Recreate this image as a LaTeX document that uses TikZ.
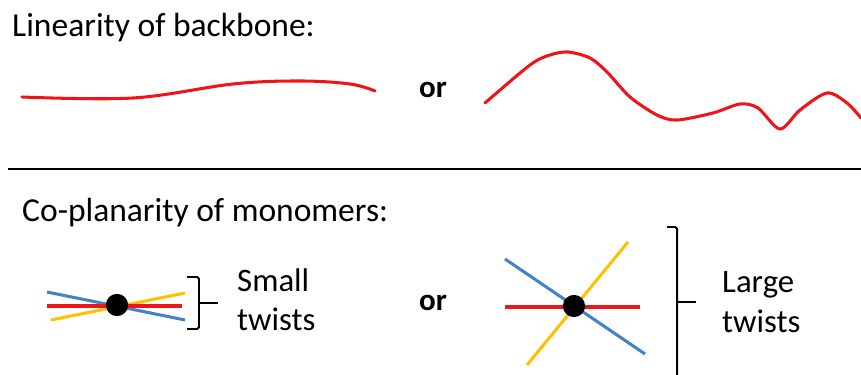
\documentclass[tikz,border=0pt]{standalone}
\usepackage{fontspec}
\setmainfont{Carlito}
\definecolor{chainred}{RGB}{238,20,24}
\definecolor{ringblue}{RGB}{68,130,200}
\definecolor{ringyellow}{RGB}{255,192,0}
\usetikzlibrary{positioning,calc}

\tikzset{
  heading/.style={anchor=base west, inner sep=0pt, font=\fontsize{28.6}{32}\selectfont},
  label/.style={anchor=base west, inner sep=0pt, font=\fontsize{28}{32}\selectfont},
  ortext/.style={inner sep=0pt, font=\fontsize{26.5}{30}\selectfont\bfseries},
  chain/.style={chainred, line width=2.6pt, line cap=round},
  bond/.style={line width=2.6pt},
  brace/.style={line width=1.7pt, rounded corners=1.5pt},
  monomer/.style={circle, fill=black, minimum size=19pt, inner sep=0pt}
}

\begin{document}
\begin{tikzpicture}[x=0.03cm, y=-0.03cm]
  \useasboundingbox (0,0) rectangle (861,375);

  % backbone linearity
  \node[heading] (linhead) at (12,37) {Linearity of backbone:};
  \draw[chain] plot[smooth, tension=0.6] coordinates {(22,97) (133,98) (233,84) (300,81) (350,84) (375,91)};
  \node[ortext] (or1) at (433,90) {or};
  \draw[chain] plot[smooth, tension=0.5] coordinates {(485,103) (530,65) (550,55) (568,52) (590,58) (607,72) (630,97) (657,115) (677,120) (713,113) (740,104) (758,108) (780,129) (800,110) (827,93) (847,103) (861,118)};

  % separator
  \draw[line width=2.2pt] (8,169) -- (861,169);

  % co-planarity
  \node[heading] (cophead) at (22,222) {Co-planarity of monomers:};

  % small twists
  \coordinate (sc) at (117,305);
  \draw[bond, ringblue] (47,292) -- (185,320);
  \draw[bond, ringyellow] (51,320) -- (185,293);
  \draw[bond, chainred] (47,306) -- (182,306);
  \node[monomer] (sdot) at (sc) {};
  \draw[brace] (187,277) -- (199,277) -- (199,329) -- (187,329);
  \draw[brace] (199,303) -- (218,303);
  \node[label] (small) at (237,292) {Small};
  \node[label] (stwist) at (237,331) {twists};

  \node[ortext] (or2) at (433,303) {or};

  % large twists
  \coordinate (lc) at (574,306);
  \draw[bond, ringblue] (505,259) -- (645,354);
  \draw[bond, ringyellow] (527,365) -- (628,242);
  \draw[bond, chainred] (505,307) -- (640,307);
  \node[monomer] (ldot) at (lc) {};
  \draw[brace] (667,227) -- (677,227) -- (677,380);
  \draw[brace] (677,302) -- (696,302);
  \node[label] (large) at (722,293) {Large};
  \node[label] (ltwist) at (722,333) {twists};
\end{tikzpicture}
\end{document}
